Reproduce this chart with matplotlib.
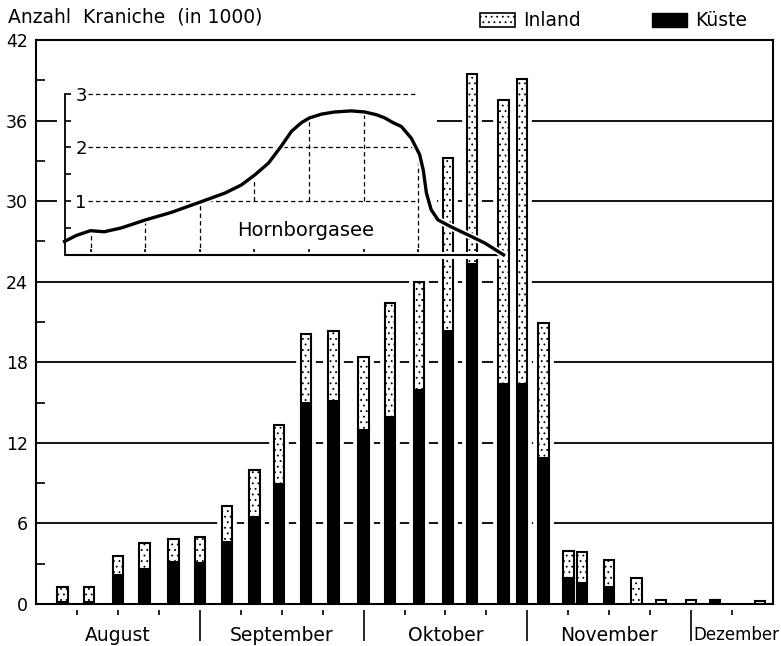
import numpy as np
import matplotlib
matplotlib.use("Agg")
import matplotlib.pyplot as plt
from matplotlib.patches import Patch
import matplotlib.patheffects as pe

plt.rcParams['font.family'] = ['DejaVu Sans']
plt.rcParams['hatch.linewidth'] = 0.6

####
# Daten: Kraniche (in 1000) je Zaehltermin
####
bar_monat = [8, 8, 8, 8, 8, 9, 9, 9, 9, 9, 9, 10, 10, 10, 10, 10, 10, 10,
             11, 11, 11, 11, 11, 11, 12, 12, 12]
bar_tag = [6, 11, 16.5, 21.5, 27, 1, 6, 11, 15.5, 20.5, 25.5, 1, 6, 11.5, 17, 21.5, 27.5, 31,
           4, 8.5, 11, 16, 21, 25.5, 1, 5.5, 14]
kueste = [0.15, 0.15, 2.15, 2.6, 3.1, 3.05, 4.6, 6.45, 8.95, 15.0, 15.1, 12.95, 13.9, 15.95,
          20.3, 25.3, 16.4, 16.4, 10.9, 1.95, 1.55, 1.25, 0.0, 0.0, 0.0, 0.3, 0.0]
inland = [1.15, 1.1, 1.45, 1.95, 1.75, 1.95, 2.7, 3.55, 4.4, 5.1, 5.25, 5.45, 8.5, 8.05,
          12.9, 14.2, 21.1, 22.7, 10.0, 2.0, 2.35, 2.05, 1.9, 0.3, 0.3, 0.0, 0.25]

# Hornborgasee (in 1000)
horn_monat = [8]*7 + [9]*12 + [10]*15
horn_tag = [6.4, 8.6, 11.3, 13.9, 17.1, 21.7, 26.6,
            1, 5.6, 8.6, 11.1, 13.6, 15.9, 17.8, 19.6, 21.1, 23.3, 25.7, 28.75,
            1.2, 3.4, 5.0, 6.6, 8.15, 10.05, 11.6, 12.3, 12.9, 13.8, 15.1, 17.6, 20.8, 23.95, 27.5]
horn_wert = [0.25, 0.36, 0.45, 0.43, 0.5, 0.65, 0.79,
             0.98, 1.15, 1.3, 1.49, 1.71, 2.02, 2.3, 2.46, 2.55, 2.62, 2.66, 2.68,
             2.66, 2.61, 2.55, 2.46, 2.39, 2.17, 1.87, 1.58, 1.15, 0.84, 0.65, 0.52, 0.37, 0.22, 0.0]

monate = ["August", "September", "Oktober", "November", "Dezember"]
tage_im_monat = {8: 31, 9: 30, 10: 31, 11: 30, 12: 31}


def pos(monat, tag):
	# x in Monatseinheiten ab 1. August
	return np.array([(m - 8) + (t - 1) / tage_im_monat[m] for m, t in zip(monat, tag)])


x = pos(bar_monat, bar_tag)
kueste = np.array(kueste)
inland = np.array(inland)
gesamt = kueste + inland

fig = plt.figure(figsize=(7.81, 6.46), dpi=100)
ax = fig.add_axes([36/781, 42/646, 737/781, 564/646])
ax.set_xlim(0, 4.5)
ax.set_ylim(0, 42)

for s in ax.spines.values():
	s.set_linewidth(1.5)

# grid + ticks
ax.set_yticks(np.arange(0, 43, 6))
ax.set_yticks(np.arange(3, 42, 6), minor=True)
ax.tick_params(axis='y', which='major', length=0, pad=6, labelsize=12.5)
ax.tick_params(axis='y', which='minor', direction='in', length=6.5, width=1.2)
ax.yaxis.grid(True, color='black', linewidth=1.3)
ax.set_axisbelow(True)
ax.set_xticks([])

# bars
w = 0.064
ax.bar(x, gesamt, width=w, color='white', edgecolor='white', linewidth=7, zorder=2)
ax.bar(x, kueste, width=w, color='black', edgecolor='black', linewidth=1.5, zorder=3)
ax.bar(x, inland, width=w, bottom=kueste, facecolor='white', edgecolor='black',
       hatch='...', linewidth=1.5, zorder=3)

# month axis below
sec = ax.secondary_xaxis(-0.0106)
sec.spines['bottom'].set_visible(False)
sec.set_xticks([1, 2, 3, 4], labels=[])
sec.set_xticks(np.arange(0.25, 4.3, 0.25), minor=True)
sec.tick_params(which='major', length=22, width=1.2)
sec.tick_params(which='minor', length=3.8, width=1.2)
sec.xaxis.set_minor_formatter(plt.NullFormatter())

for i, name in enumerate(monate):
	if name == "Dezember":
		ax.text(i + 0.015, -0.055, name, transform=ax.get_xaxis_transform(),
		        ha='left', va='center', fontsize=12)
	else:
		ax.text(i + 0.5, -0.055, name, transform=ax.get_xaxis_transform(),
		        ha='center', va='center', fontsize=13.5)

####
# inset Hornborgasee
####
hx = pos(horn_monat, horn_tag)
hv = np.array(horn_wert)
uL, uR = 0.128, 2.451
ax_in = ax.inset_axes([uL, 26, uR - uL, 12.5], transform=ax.transData)
ax_in.set_xlim(uL, uR)
ax_in.set_ylim(0, 12.5 / 4)
ax_in.set_facecolor('white')
for k in ['top', 'right', 'bottom']:
	ax_in.spines[k].set_visible(False)
ax_in.spines['left'].set_position(('data', hx[0]))
ax_in.spines['left'].set_bounds(0, 3)
ax_in.spines['left'].set_linewidth(1.3)
ax_in.set_xticks([])
ax_in.set_yticks([1, 2, 3])
ax_in.set_yticks([0.5, 1.5, 2.5], minor=True)
ax_in.tick_params(axis='y', which='both', direction='in', length=4.3, width=1.2)
ax_in.tick_params(axis='y', which='major', pad=-16, labelsize=13)

dash = (0, (3.5, 2.5))
ax_in.hlines([1, 2, 3], 0.32, 7/3, colors='black', linewidth=0.9, linestyles=[dash])

label_x = 1.644
for xv in np.arange(1, 8) / 3:
	y0 = 1 if abs(xv - label_x) < 0.45 else 0
	ax_in.vlines(xv, y0, np.interp(xv, hx, hv), colors='black', linewidth=0.9, linestyles=[dash])
	ax_in.vlines(xv, 0, 0.1, colors='black', linewidth=1.2)

halo = [pe.Stroke(linewidth=5, foreground='white'), pe.Normal()]
ax_in.plot([hx[0], hx[-1]], [0, 0], color='black', linewidth=1.5, clip_on=False,
           path_effects=halo, solid_capstyle='butt')
ax_in.plot(hx, hv, color='black', linewidth=2.4, clip_on=False, path_effects=halo,
           solid_joinstyle='round')
ax_in.text(label_x, 0.45, "Hornborgasee", ha='center', va='center', fontsize=14)

####
# titel + legende
####
fig.text(8/781, 1 - 17/646, "Anzahl  Kraniche  (in 1000)", fontsize=13.5, va='center')
handles = [Patch(facecolor='white', edgecolor='black', hatch='...', linewidth=1.2, label='Inland'),
           Patch(facecolor='black', edgecolor='black', label='Küste')]
fig.legend(handles=handles, loc='center left', bbox_to_anchor=(480/781, 1 - 21/646), ncol=2,
           frameon=False, fontsize=13.5, handlelength=1.85, handleheight=0.7,
           handletextpad=0.45, columnspacing=3.8, borderpad=0, borderaxespad=0)

fig.savefig("out.png", dpi=100)
